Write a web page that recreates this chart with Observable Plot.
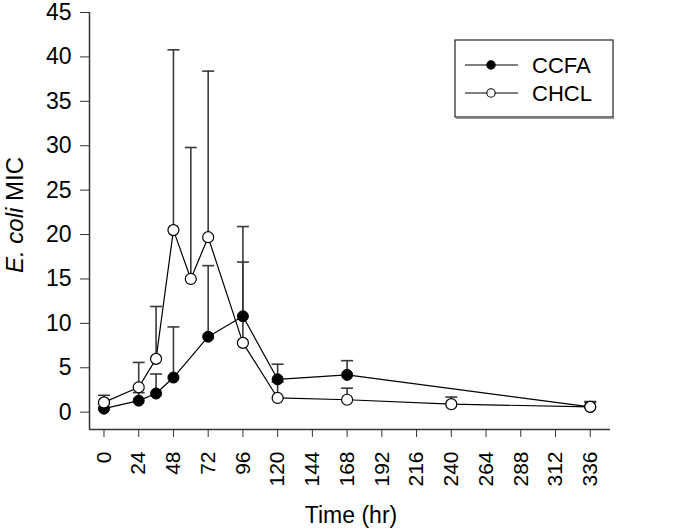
<!DOCTYPE html>
<html>
<head>
<meta charset="utf-8">
<script src="https://cdn.jsdelivr.net/npm/d3@7"></script>
<script src="https://cdn.jsdelivr.net/npm/@observablehq/plot@0.6"></script>
<style>
  html, body { margin: 0; padding: 0; background: #fff; }
  #chart { position: relative; width: 691px; height: 531px; }
</style>
</head>
<body>
<div id="chart"></div>
<script>
// ---- data ----
const ccfaTime  = [0, 24, 36, 48, 72, 96, 120, 168, 336];
const ccfaMean  = [0.4, 1.3, 2.1, 3.9, 8.5, 10.8, 3.7, 4.2, 0.6];
const ccfaUpper = [0.9, 2.2, 4.3, 9.6, 16.5, 20.9, 5.4, 5.8, 1.1];

const chclTime  = [0, 24, 36, 48, 60, 72, 96, 120, 168, 240, 336];
const chclMean  = [1.1, 2.8, 6.0, 20.5, 15.0, 19.7, 7.8, 1.6, 1.4, 0.9, 0.6];
const chclUpper = [1.9, 5.6, 11.9, 40.8, 29.8, 38.4, 16.9, 3.4, 2.7, 1.7, 1.2];

const xTicks = [0, 24, 48, 72, 96, 120, 144, 168, 192, 216, 240, 264, 288, 312, 336];
const yTicks = [0, 5, 10, 15, 20, 25, 30, 35, 40, 45];
const seriesNames = ["CCFA", "CHCL"];

const xDomain = [-10, 350];
const yDomain = [-1.95, 45];

const ccfa = ccfaTime.map((t, i) => ({series: "CCFA", time: t, mean: ccfaMean[i], upper: ccfaUpper[i]}));
const chcl = chclTime.map((t, i) => ({series: "CHCL", time: t, mean: chclMean[i], upper: chclUpper[i]}));
const all = ccfa.concat(chcl);

const capSymbol = {
  draw(context, size) {
    const w = 6;
    context.moveTo(-w, 0);
    context.lineTo(w, 0);
  }
};

const FONT = "'Liberation Sans', Arial, Helvetica, sans-serif";

const chart = Plot.plot({
  width: 691,
  height: 531,
  marginLeft: 89,
  marginRight: 81,
  marginTop: 12,
  marginBottom: 102,
  style: {fontFamily: FONT, background: "#fff", color: "#000"},
  x: {domain: xDomain},
  y: {domain: yDomain},
  marks: [
    Plot.axisY({ticks: yTicks, tickSize: 9, tickPadding: 9, fontSize: 23, label: null, stroke: "#333", fill: "#000", tickFormat: d => String(d)}),
    Plot.axisX({ticks: xTicks, tickSize: 8, tickPadding: 14, fontSize: 21, tickRotate: -90, label: null, stroke: "#333", fill: "#000", tickFormat: d => String(d)}),
    Plot.ruleX([xDomain[0]], {y1: yDomain[0], y2: 45, stroke: "#333", strokeWidth: 1.5}),
    Plot.ruleY([yDomain[0]], {x1: xDomain[0], x2: xDomain[1], stroke: "#333", strokeWidth: 1.5}),
    // error bars
    Plot.ruleX(all, {x: "time", y1: "mean", y2: "upper", stroke: "#3a3a3a", strokeWidth: 1.6}),
    Plot.dot(all, {x: "time", y: "upper", symbol: capSymbol, stroke: "#3a3a3a", strokeWidth: 1.6, fill: "none", r: 5}),
    // lines
    Plot.line(chcl, {x: "time", y: "mean", stroke: "#000", strokeWidth: 1.2}),
    Plot.line(ccfa, {x: "time", y: "mean", stroke: "#000", strokeWidth: 1.2}),
    // markers
    Plot.dot(ccfa, {x: "time", y: "mean", r: 5.5, fill: "#000", stroke: "#000", strokeWidth: 1}),
    Plot.dot(chcl, {x: "time", y: "mean", r: 5.5, fill: "#fff", stroke: "#000", strokeWidth: 1.2})
  ]
});

document.getElementById("chart").appendChild(chart);

// titles and legend
const svg = d3.select(chart);

svg.append("text")
  .attr("x", 351).attr("y", 523)
  .attr("text-anchor", "middle")
  .attr("font-family", FONT).attr("font-size", 23).attr("fill", "#000")
  .text("Time (hr)");

const yl = svg.append("text")
  .attr("transform", "translate(22.5,215) rotate(-90)")
  .attr("text-anchor", "middle")
  .attr("font-family", FONT).attr("font-size", 24).attr("fill", "#000");
yl.append("tspan").attr("font-style", "italic").text("E. coli");
yl.append("tspan").text(" MIC");

const lg = svg.append("g");
lg.append("rect").attr("x", 455).attr("y", 40).attr("width", 158).attr("height", 77)
  .attr("fill", "#fff").attr("stroke", "#222").attr("stroke-width", 1.2);
lg.append("line").attr("x1", 456).attr("x2", 614).attr("y1", 118).attr("y2", 118)
  .attr("stroke", "#777").attr("stroke-width", 1.5);
const legendY = [65, 93];
seriesNames.forEach((name, i) => {
  const y = legendY[i];
  lg.append("line").attr("x1", 465).attr("x2", 518).attr("y1", y).attr("y2", y)
    .attr("stroke", "#000").attr("stroke-width", 1.2);
  lg.append("circle").attr("cx", 491).attr("cy", y).attr("r", 4.2)
    .attr("fill", i === 0 ? "#000" : "#fff").attr("stroke", "#000").attr("stroke-width", 1.1);
  lg.append("text").attr("x", 532).attr("y", y + 7.5)
    .attr("text-anchor", "start")
    .attr("font-family", FONT).attr("font-size", 22).attr("fill", "#000")
    .text(name);
});
</script>
</body>
</html>
